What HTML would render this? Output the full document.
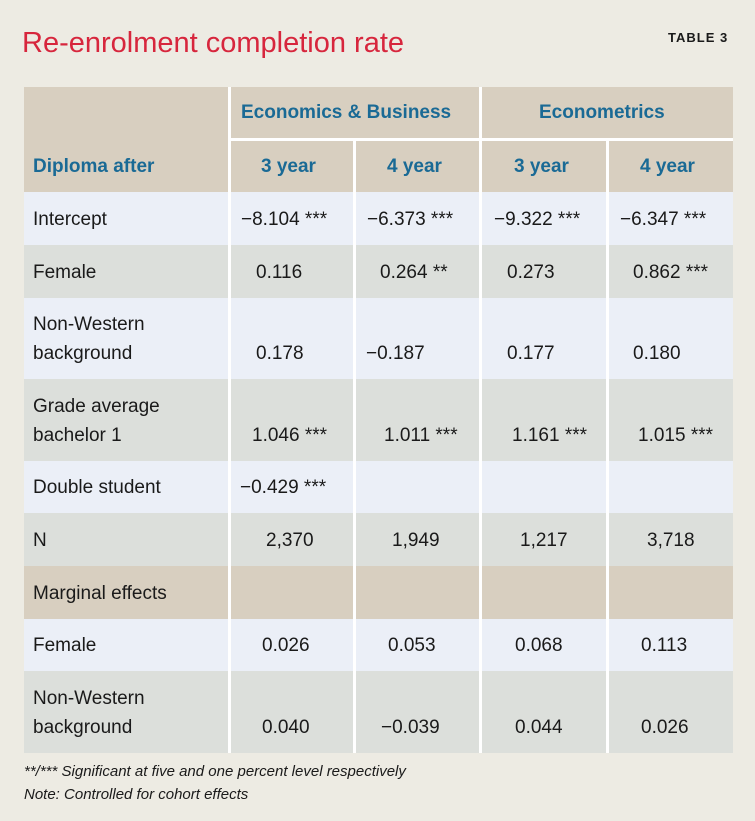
<!DOCTYPE html>
<html><head><meta charset="utf-8"><style>
body{margin:0;width:755px;height:821px;background:#edebe3;position:relative;overflow:hidden;font-family:"Liberation Sans",sans-serif}
.c{position:absolute}
.t{position:absolute;font-size:19px;color:#1a1a1a;white-space:nowrap;line-height:1}
.h{position:absolute;font-size:19px;font-weight:bold;color:#1a6a95;white-space:nowrap;line-height:1}
</style></head><body>
<div class="t" style="left:22px;top:29px;font-size:29px;color:#d7263d">Re-enrolment completion rate</div>
<div class="t" style="left:668px;top:31px;font-size:13px;font-weight:bold;letter-spacing:1px">TABLE 3</div>
<div>
<div class="c" style="left:24px;top:87px;width:709px;height:666px;background:#fff"></div>
<div class="c" style="left:24px;top:87px;width:204px;height:105px;background:#d8cfc0"></div>
<div class="c" style="left:231px;top:87px;width:248px;height:51px;background:#d8cfc0"></div>
<div class="c" style="left:482px;top:87px;width:251px;height:51px;background:#d8cfc0"></div>
<div class="c" style="left:231px;top:141px;width:122px;height:51px;background:#d8cfc0"></div>
<div class="c" style="left:356px;top:141px;width:123px;height:51px;background:#d8cfc0"></div>
<div class="c" style="left:482px;top:141px;width:124px;height:51px;background:#d8cfc0"></div>
<div class="c" style="left:609px;top:141px;width:124px;height:51px;background:#d8cfc0"></div>
<div id="rows"></div>
<div class="h" style="left:241px;top:103px">Economics &amp; Business</div>
<div class="h" style="left:539px;top:103px">Econometrics</div>
<div class="h" style="left:33px;top:157px">Diploma after</div>
<div class="h" style="left:261px;top:157px">3 year</div>
<div class="h" style="left:387px;top:157px">4 year</div>
<div class="h" style="left:514px;top:157px">3 year</div>
<div class="h" style="left:640px;top:157px">4 year</div>
</div>
<div class="t" style="left:24px;top:764px;font-size:15px;font-style:italic">**/*** Significant at five and one percent level respectively</div>
<div class="t" style="left:24px;top:787px;font-size:15px;font-style:italic">Note: Controlled for cohort effects</div>
<script>
const rowLabels=[["Intercept"],["Female"],["Non-Western","background"],["Grade average","bachelor 1"],["Double student"],["N"],["Marginal effects"],["Female"],["Non-Western","background"]];
const col1=["−8.104 ***","0.116","0.178","1.046 ***","−0.429 ***","2,370","","0.026","0.040"];
const col2=["−6.373 ***","0.264 **","−0.187","1.011 ***","","1,949","","0.053","−0.039"];
const col3=["−9.322 ***","0.273","0.177","1.161 ***","","1,217","","0.068","0.044"];
const col4=["−6.347 ***","0.862 ***","0.180","1.015 ***","","3,718","","0.113","0.026"];
const tops=[192,245,298,379,461,513,566,619,671,753];
const fills=["#ebeff7","#dcdfdb","#ebeff7","#dcdfdb","#ebeff7","#dcdfdb","#d8cfc0","#ebeff7","#dcdfdb"];
const cols=[[24,204],[231,122],[356,123],[482,124],[609,124]];
const xs=[[241,256,256,252,240,266,0,262,262],[367,380,366,384,0,392,0,388,381],[494,507,507,512,0,520,0,515,515],[620,633,633,638,0,647,0,641,641]];
const root=document.getElementById('rows');
const data=[col1,col2,col3,col4];
for(let r=0;r<rowLabels.length;r++){
 const y0=tops[r],h=tops[r+1]-y0;
 for(const [x,w] of cols){const d=document.createElement('div');d.className='c';
  
  
  d.style.cssText=`left:${x}px;top:${y0}px;width:${w}px;height:${h}px;background:${fills[r]}`;root.appendChild(d);}
 const lines=rowLabels[r];
 const lastY=y0+h-35;
 lines.forEach((s,i)=>{const d=document.createElement('div');d.className='t';
  
  
  d.textContent=s;d.style.left='33px';d.style.top=(lastY-(lines.length-1-i)*29)+'px';root.appendChild(d);});
 for(let c=0;c<4;c++){const v=data[c][r];if(!v)continue;const d=document.createElement('div');d.className='t';
  
  
  d.textContent=v;d.style.left=xs[c][r]+'px';d.style.top=lastY+'px';root.appendChild(d);}
}
</script>
</body></html>
